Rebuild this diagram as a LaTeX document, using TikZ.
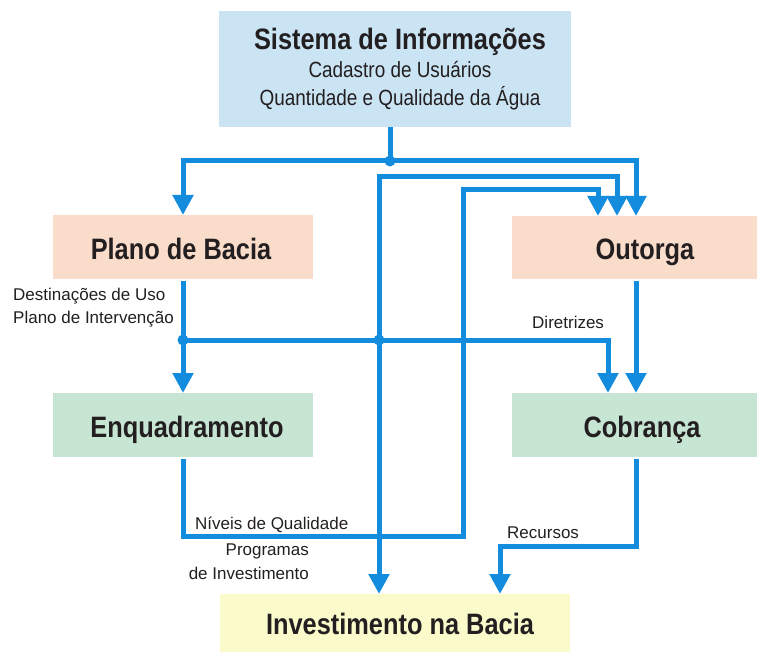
\documentclass[tikz,border=0pt]{standalone}
\usepackage{fontspec}
\setmainfont{Liberation Sans}
\newfontfamily\condfont{Liberation Sans}[FakeStretch=0.86]
\usetikzlibrary{arrows.meta}
\definecolor{flowblue}{RGB}{20,140,222}
\definecolor{boxblue}{RGB}{202,228,244}
\definecolor{boxsalmon}{RGB}{250,220,202}
\definecolor{boxgreen}{RGB}{198,229,210}
\definecolor{boxyellow}{RGB}{250,250,202}
\definecolor{txt}{RGB}{35,31,32}
\begin{document}
\begin{tikzpicture}[x=1pt,y=-1pt,
  box/.style={draw=none,inner sep=0pt,outer sep=0pt,anchor=north west},
  head/.style={inner sep=0pt,text=txt,font=\condfont\bfseries\fontsize{29.5}{30}\selectfont},
  sub/.style={inner sep=0pt,text=txt,font=\condfont\fontsize{22}{24}\selectfont},
  lab/.style={inner sep=0pt,text=txt,font=\fontsize{17}{19}\selectfont},
  flow/.style={draw=flowblue,line width=5pt,miter limit=10},
  arr/.style={flow,-{Triangle[width=20pt,length=20pt]}}]
\useasboundingbox (0,0) rectangle (757,652);
\clip (0,0) rectangle (757,652);
\fill[white] (0,0) rectangle (757,652);
% boxes
\node[box,fill=boxblue,minimum width=352pt,minimum height=116pt] (sis) at (219,11) {};
\node[box,fill=boxsalmon,minimum width=260pt,minimum height=64pt] (plano) at (53,215) {};
\node[box,fill=boxsalmon,minimum width=262pt,minimum height=63pt] (outorga) at (512,216) {};
\node[box,fill=boxgreen,minimum width=260pt,minimum height=64pt] (enq) at (53,393) {};
\node[box,fill=boxgreen,minimum width=262pt,minimum height=64pt] (cob) at (512,393) {};
\node[box,fill=boxyellow,minimum width=350pt,minimum height=60pt] (inv) at (220,594) {};
% box texts
\node[head,anchor=base] (sisT) at (400,50) {Sistema de Informações};
\node[sub,anchor=base] (sisA) at (400,78) {Cadastro de Usuários};
\node[sub,anchor=base] (sisB) at (400,106) {Quantidade e Qualidade da Água};
\node[head,anchor=base] (planoT) at (181,260) {Plano de Bacia};
\node[head,anchor=base] (outT) at (645,259) {Outorga};
\node[head,anchor=base] (enqT) at (187,437) {Enquadramento};
\node[head,anchor=base] (cobT) at (642,437) {Cobrança};
\node[head,anchor=base] (invT) at (400,634) {Investimento na Bacia};
% coordinates
\coordinate (j1) at (390,161);
\coordinate (j2) at (183,340);
\coordinate (j3) at (379,340);
\coordinate (k1) at (379,177);
\coordinate (k2) at (463,536);
\coordinate (k3) at (463,190);
\coordinate (k4) at (500,546);
\coordinate (o1) at (598,216);
\coordinate (o2) at (617,216);
\coordinate (o3) at (636,216);
\coordinate (c1) at (608,393);
\coordinate (c2) at (636,393);
\coordinate (i1) at (379,594);
\coordinate (i2) at (500,594);
% connectors
\draw[flow] (sis.south -| j1) -- (j1);
\draw[arr] (j1) -| (plano.north);
\draw[arr] (j1) -| (o3);
\draw[arr,shorten <=2pt] (plano.south) -- (enq.north);
\draw[flow] (j2) -- (j3);
\draw[arr] (j3) -| (c1);
\draw[arr] (j3) -- (k1) -| (o2);
\draw[arr] (j3) -- (i1);
\draw[arr,shorten <=2pt] (enq.south) |- (k2) -- (k3) -| (o1);
\draw[arr,shorten <=2pt] (outorga.south -| o3) -- (c2);
\draw[arr,shorten <=2pt] (cob.south -| c2) |- (k4) -- (i2);
\fill[flowblue] (j1) circle (5.5);
\fill[flowblue] (j2) circle (5.5);
\fill[flowblue] (j3) circle (5.5);
% labels
\node[lab,anchor=base west] (lD) at (13,300) {Destinações de Uso};
\node[lab,anchor=base west] (lP) at (13,323) {Plano de Intervenção};
\node[lab,anchor=base west] (lDir) at (532,328) {Diretrizes};
\node[lab,anchor=base west] (lN) at (195,529) {Níveis de Qualidade};
\node[lab,anchor=base east] (lPr) at (309,555) {Programas};
\node[lab,anchor=base east] (lI) at (309,579) {de Investimento};
\node[lab,anchor=base west] (lR) at (507,538) {Recursos};
\end{tikzpicture}
\end{document}
